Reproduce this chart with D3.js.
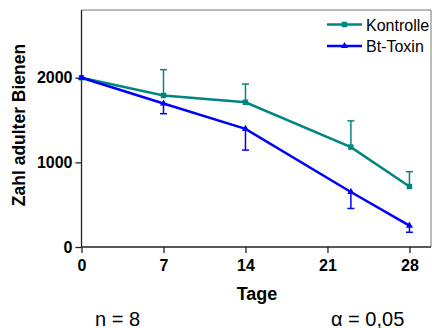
<!DOCTYPE html>
<html>
<head>
<meta charset="utf-8">
<script src="https://cdn.jsdelivr.net/npm/d3@7"></script>
<style>
  body { margin: 0; background: #fff; }
  svg { display: block; font-family: Arial, "Liberation Sans", sans-serif; }
  .tick text { font-weight: bold; font-size: 16px; fill: #000; }
</style>
</head>
<body>
<div id="chart"></div>
<script>
// days of measurement
const days = [0, 7, 14, 23, 28];
const kontrolle = [2000, 1790, 1710, 1180, 715];
const kontrolleErr = [0, 305, 215, 310, 175];   // drawn upwards
const btToxin = [2000, 1695, 1395, 650, 252];
const btToxinErr = [0, 120, 250, 195, 78];      // drawn downwards
const xTicks = [0, 7, 14, 21, 28];
const yTicks = [0, 1000, 2000];
const seriesNames = ["Kontrolle", "Bt-Toxin"];

const width = 432, height = 328;
const plotLeft = 81.5, plotRight = 431, plotTop = 10, plotBottom = 247;

const x = d3.scaleLinear().domain([0, 29.84]).range([plotLeft, plotRight]);
const y = d3.scaleLinear().domain([0, 2800]).range([plotBottom, plotTop]);

const svg = d3.select("#chart").append("svg")
  .attr("width", width)
  .attr("height", height);

// frame top + right
svg.append("path")
  .attr("d", `M${plotLeft},${plotTop}H${plotRight}V${plotBottom}`)
  .attr("fill", "none")
  .attr("stroke", "#777")
  .attr("stroke-width", 1);

const xAxis = svg.append("g")
  .attr("transform", "translate(0," + plotBottom + ")")
  .call(d3.axisBottom(x).tickValues(xTicks).tickFormat(d3.format("d"))
    .tickSize(6).tickPadding(7).tickSizeOuter(0));
const yAxis = svg.append("g")
  .attr("transform", "translate(" + plotLeft + ",0)")
  .call(d3.axisLeft(y).tickValues(yTicks).tickFormat(d3.format("d"))
    .tickSize(6).tickPadding(3).tickSizeOuter(0));

[xAxis, yAxis].forEach(a => {
  a.attr("font-family", null).attr("font-size", null);
  a.selectAll("line, path").attr("stroke", "#222").attr("stroke-width", 1.3);
});
yAxis.select(".domain").attr("d", `M0,${plotTop}V${plotBottom}`);
xAxis.select(".domain").attr("d", `M${plotLeft},0H${plotRight}`);

const series = [
  { name: seriesNames[0], vals: kontrolle, err: kontrolleErr, dir: 1, color: "#008682", marker: "square" },
  { name: seriesNames[1], vals: btToxin, err: btToxinErr, dir: -1, color: "#0000ff", marker: "triangle" }
];

const line = d3.line().x(d => x(d[0])).y(d => y(d[1]));

function markerPath(s) {
  return d3.symbol().type(s.marker === "square" ? d3.symbolSquare : d3.symbolTriangle)
    .size(s.marker === "square" ? 30 : 22)();
}

series.forEach(s => {
  const pts = days.map((d, i) => [d, s.vals[i], s.err[i]]);
  const g = svg.append("g");

  // error bars
  const eb = g.selectAll(".err").data(pts.filter(p => p[2] > 0)).enter().append("g");
  eb.append("line")
    .attr("x1", d => x(d[0])).attr("x2", d => x(d[0]))
    .attr("y1", d => y(d[1])).attr("y2", d => y(d[1] + s.dir * d[2]))
    .attr("stroke", s.color).attr("stroke-width", 1.5);
  eb.append("line")
    .attr("x1", d => x(d[0]) - 3.5).attr("x2", d => x(d[0]) + 3.5)
    .attr("y1", d => y(d[1] + s.dir * d[2])).attr("y2", d => y(d[1] + s.dir * d[2]))
    .attr("stroke", s.color).attr("stroke-width", 1.5);

  g.append("path")
    .attr("d", line(pts))
    .attr("fill", "none")
    .attr("stroke", s.color)
    .attr("stroke-width", 2.5);

  g.selectAll(".pt").data(pts).enter().append("path")
    .attr("transform", d => `translate(${x(d[0])},${y(d[1])})`)
    .attr("d", markerPath(s))
    .attr("fill", s.color);
});

// legend
const legend = svg.append("g");
series.forEach((s, i) => {
  const ly = 24.5 + i * 21.5;
  legend.append("line")
    .attr("x1", 327).attr("x2", 362).attr("y1", ly).attr("y2", ly)
    .attr("stroke", s.color).attr("stroke-width", 2.5);
  legend.append("path")
    .attr("transform", `translate(344.5,${ly})`)
    .attr("d", markerPath(s))
    .attr("fill", s.color);
  legend.append("text")
    .attr("x", 366).attr("y", ly + 6)
    .attr("font-size", 16)
    .text(s.name);
});

// axis titles
svg.append("text")
  .attr("transform", "translate(25,125) rotate(-90)")
  .attr("text-anchor", "middle")
  .attr("font-weight", "bold")
  .attr("font-size", 17.5)
  .text("Zahl adulter Bienen");

svg.append("text")
  .attr("x", 257).attr("y", 300)
  .attr("text-anchor", "middle")
  .attr("font-weight", "bold")
  .attr("font-size", 18)
  .text("Tage");

svg.append("text")
  .attr("x", 95).attr("y", 325.5)
  .attr("font-size", 20)
  .text("n = 8");

svg.append("text")
  .attr("x", 331).attr("y", 325.5)
  .attr("font-size", 20)
  .text("α = 0,05");
</script>
</body>
</html>
